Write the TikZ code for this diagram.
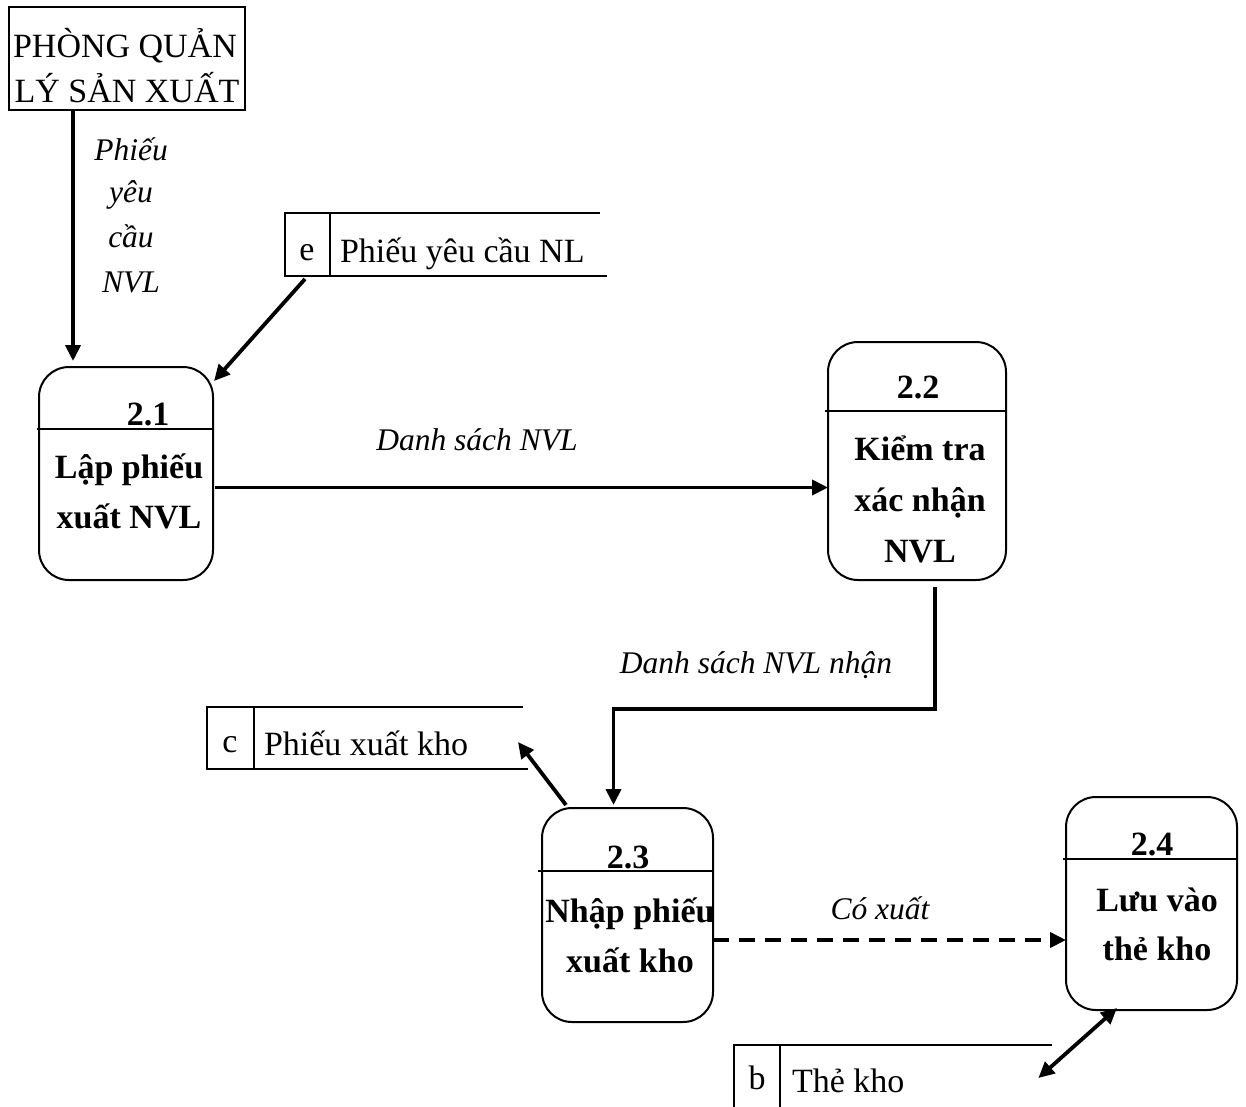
\documentclass[tikz,border=0pt]{standalone}
\usepackage{fontspec}
\setmainfont{Liberation Serif}
\usetikzlibrary{arrows.meta,calc}
\begin{document}
\begin{tikzpicture}[x=1pt,y=-1pt,
  every node/.style={inner sep=0pt,outer sep=0pt},
  txt/.style={font=\fontsize{34}{46}\selectfont},
  bold/.style={font=\fontsize{34}{50}\selectfont\bfseries,anchor=base},
  lbl/.style={font=\fontsize{31.5}{44}\selectfont\itshape,anchor=base},
  procbox/.style={draw,line width=2pt,rounded corners=30pt},
  divider/.style={line width=2pt},
  storeline/.style={line width=2.5pt},
  flow/.style={line width=3.8pt,-{Triangle[length=16pt,width=15pt]}},
  dflow/.style={line width=3.8pt,{Triangle[length=16pt,width=15pt]}-{Triangle[length=16pt,width=15pt]}}]
\useasboundingbox (0,0) rectangle (1246,1106);

% external entity
\node[draw,line width=2pt,minimum width=236pt,minimum height=103pt] (pq) at (127,58.5) {};
\node[txt,anchor=base] (pqa) at (125,57) {PHÒNG QUẢN};
\node[txt,anchor=base] (pqb) at (127,102) {LÝ SẢN XUẤT};

% data store e
\draw[storeline] (600,213) -- (285,213) -- (285,276) -- (607,276);
\draw[divider] (330,213) -- (330,276);
\node[txt,anchor=base] (eid) at (307,260) {e};
\node[txt,anchor=base west] (etx) at (340,262) {Phiếu yêu cầu NL};

% data store c
\draw[storeline] (523,707) -- (207,707) -- (207,769) -- (528,769);
\draw[divider] (254,707) -- (254,769);
\node[txt,anchor=base] (cid) at (230,752) {c};
\node[txt,anchor=base west] (ctx) at (264,755) {Phiếu xuất kho};

% data store b
\draw[storeline] (1052,1045) -- (734,1045) -- (734,1110);
\draw[divider] (780,1045) -- (780,1110);
\node[txt,anchor=base] (bid) at (757,1089) {b};
\node[txt,anchor=base west] (btx) at (792,1092) {Thẻ kho};

% processes
\node[procbox,minimum width=174pt,minimum height=213pt] (p1) at (126,473.5) {};
\draw[divider] (p1.north west) ++(-2,62) -- ++(176,0);
\node[bold] (p1n) at (148,425) {2.1};
\node[bold] (p1a) at (129,478) {Lập phiếu};
\node[bold] (p1b) at (129,528) {xuất NVL};

\node[procbox,minimum width=178pt,minimum height=238pt] (p2) at (917,461) {};
\draw[divider] (p2.north west) ++(-3,69) -- ++(180,0);
\node[bold] (p2n) at (918,398) {2.2};
\node[bold] (p2a) at (920,460) {Kiểm tra};
\node[bold] (p2b) at (920,511) {xác nhận};
\node[bold] (p2c) at (920,562) {NVL};

\node[procbox,minimum width=171pt,minimum height=214pt] (p3) at (627.5,915) {};
\draw[divider] (p3.north west) ++(-4,63) -- ++(175,0);
\node[bold] (p3n) at (628,868) {2.3};
\node[bold] (p3a) at (630,922) {Nhập phiếu};
\node[bold] (p3b) at (630,972) {xuất kho};

\node[procbox,minimum width=171pt,minimum height=213pt] (p4) at (1151.5,903.5) {};
\draw[divider] (p4.north west) ++(-3,62) -- ++(174,0);
\node[bold] (p4n) at (1152,855) {2.4};
\node[bold] (p4a) at (1157,911) {Lưu vào};
\node[bold] (p4b) at (1157,960) {thẻ kho};

% flow labels
\node[lbl] (l1a) at (131,160) {Phiếu};
\node[lbl] (l1b) at (131,202) {yêu};
\node[lbl] (l1c) at (131,247) {cầu};
\node[lbl] (l1d) at (131,292) {NVL};
\node[lbl] (l2) at (477,450) {Danh sách NVL};
\node[lbl] (l3) at (756,673) {Danh sách NVL nhận};
\node[lbl] (l4) at (880,919) {Có xuất};

% connectors
\coordinate (pqout) at ($(pq.south west)+(64,0)$);
\draw[flow] (pqout) -- ($(pqout |- p1.north)+(0,-6)$);
\coordinate (eout) at (305,279);
\draw[flow] (eout) -- ($(p1.north east)+(1,14)$);
\draw[flow] ([yshift=-14pt]p1.east) ++(2,0) -- ([yshift=-14pt]p1.east -| p2.west);
\coordinate (p2out) at ($(p2.south)+(18,7)$);
\coordinate (p3in) at ($(p3.north)+(-14,-3)$);
\draw[flow] (p2out) -- (p2out |- 0,709) -| (p3in);
\draw[flow] ($(p3.north west)+(24,-3)$) -- ($(ctx.base east)+(50,-13)$);
\draw[flow,dash pattern=on 16pt off 10pt] ([yshift=-25pt]p3.east) -- ([yshift=-25pt]p3.east -| p4.west);
\draw[dflow] ($(p4.south west)+(51,-2)$) -- ($(btx.base east)+(134,-14)$);
\end{tikzpicture}
\end{document}
